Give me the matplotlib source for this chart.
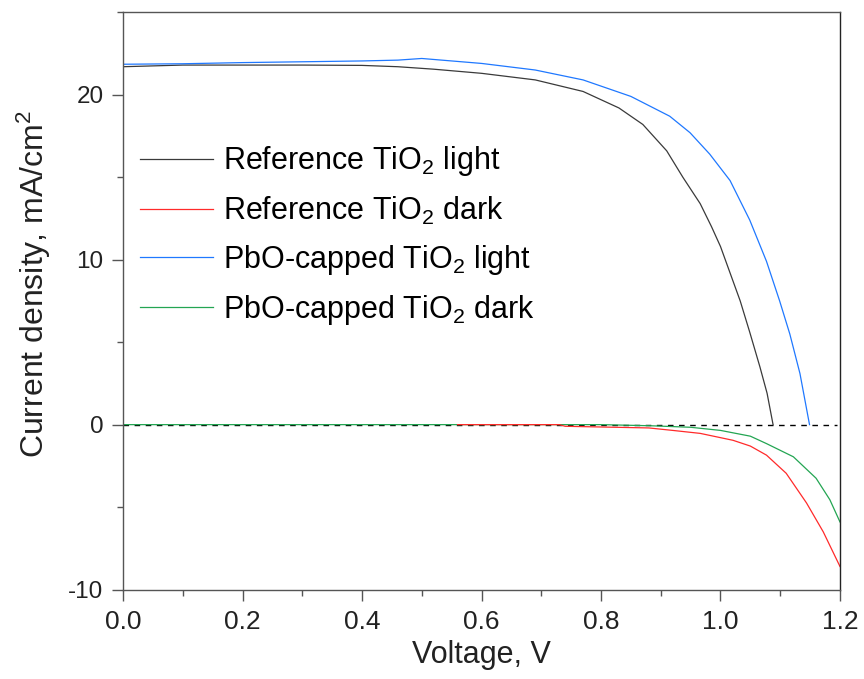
import numpy as np
import matplotlib
matplotlib.use("Agg")
import matplotlib.pyplot as plt
from matplotlib.ticker import MultipleLocator

plt.rcParams['font.family'] = ['Liberation Sans', 'DejaVu Sans']
plt.rcParams['mathtext.fontset'] = 'custom'
plt.rcParams['mathtext.rm'] = 'Liberation Sans'
plt.rcParams['mathtext.default'] = 'regular'
plt.rcParams['axes.unicode_minus'] = False

# Reference TiO2, light
v_ref_light = [0.0, 0.1, 0.2, 0.3, 0.4, 0.46, 0.52, 0.6, 0.69, 0.77, 0.83, 0.87,
               0.91, 0.937, 0.966, 0.985, 1.0, 1.016, 1.033, 1.049, 1.066, 1.078, 1.088]
j_ref_light = [21.7, 21.8, 21.8, 21.8, 21.78, 21.7, 21.55, 21.3, 20.9, 20.2, 19.2, 18.2,
               16.6, 15.0, 13.4, 12.0, 10.8, 9.2, 7.5, 5.6, 3.5, 1.9, 0.0]

# PbO-capped TiO2, light
v_pbo_light = [0.0, 0.1, 0.2, 0.3, 0.4, 0.46, 0.5, 0.6, 0.69, 0.77, 0.85, 0.915,
               0.949, 0.982, 1.016, 1.049, 1.077, 1.099, 1.116, 1.133, 1.149]
j_pbo_light = [21.85, 21.88, 21.95, 22.0, 22.05, 22.1, 22.2, 21.9, 21.5, 20.9, 19.9, 18.7,
               17.7, 16.4, 14.8, 12.4, 9.9, 7.5, 5.5, 3.1, 0.0]

# Reference TiO2, dark
v_ref_dark = [0.56, 0.73, 0.74, 0.88, 0.92, 0.966, 1.021, 1.05, 1.077, 1.11, 1.144, 1.172, 1.2]
j_ref_dark = [0.0, 0.0, -0.1, -0.2, -0.35, -0.53, -0.95, -1.3, -1.85, -2.95, -4.75, -6.5, -8.6]

# PbO-capped TiO2, dark
v_pbo_dark = [0.0, 0.3, 0.6, 0.8, 0.885, 0.95, 1.0, 1.05, 1.077, 1.122, 1.16, 1.183, 1.2]
j_pbo_dark = [0.0, 0.0, 0.0, 0.0, -0.07, -0.16, -0.35, -0.7, -1.15, -1.95, -3.25, -4.55, -5.9]

labels = ['Reference TiO$_2$ light', 'Reference TiO$_2$ dark',
          'PbO-capped TiO$_2$ light', 'PbO-capped TiO$_2$ dark']

fig = plt.figure(figsize=(8.64, 6.79), dpi=100)
ax = fig.add_axes([0.1424, 0.1317, 0.8298, 0.8502])

ax.plot([0, 1.195], [0, 0], color='black', lw=1.0, ls=(0, (4, 4)))
ax.plot(v_pbo_dark, j_pbo_dark, color='#23a552', lw=0.9, label=labels[3])
ax.plot(v_ref_dark, j_ref_dark, color='#ff2a2a', lw=0.9, label=labels[1])
ax.plot(v_ref_light, j_ref_light, color='#3a3a3a', lw=0.9, label=labels[0])
ax.plot(v_pbo_light, j_pbo_light, color='#1f78ff', lw=0.9, label=labels[2])

ax.set_xlim(0, 1.2)
ax.set_ylim(-10, 25)
ax.xaxis.set_major_locator(MultipleLocator(0.2))
ax.xaxis.set_minor_locator(MultipleLocator(0.1))
ax.yaxis.set_major_locator(MultipleLocator(10))
ax.yaxis.set_minor_locator(MultipleLocator(5))
ax.tick_params(which='both', direction='out', top=False, right=False, colors='#555555', labelcolor='#222222')
ax.tick_params(which='major', length=8, width=1.0)
ax.tick_params(which='minor', length=4, width=1.0)
ax.tick_params(axis='y', labelsize=17.5, pad=6)
ax.tick_params(axis='x', labelsize=19, pad=7)
for s in ax.spines.values():
    s.set_color('#555555')
    s.set_linewidth(1.0)
ax.spines['right'].set_color('#222222')

ax.set_xlabel('Voltage, V', fontsize=22, color='#222222', labelpad=4)
ax.set_ylabel('Current density, mA/cm$^2$', fontsize=23, color='#222222')
ax.yaxis.set_label_coords(-0.097, 0.53)

h, l = ax.get_legend_handles_labels()
order = [2, 1, 3, 0]
ax.legend([h[i] for i in order], [l[i] for i in order], loc='upper left',
          bbox_to_anchor=(-0.014, 0.819), frameon=False, fontsize=22,
          handlelength=2.36, handletextpad=0.33, labelspacing=0.53)

fig.savefig('out.png', dpi=100)
